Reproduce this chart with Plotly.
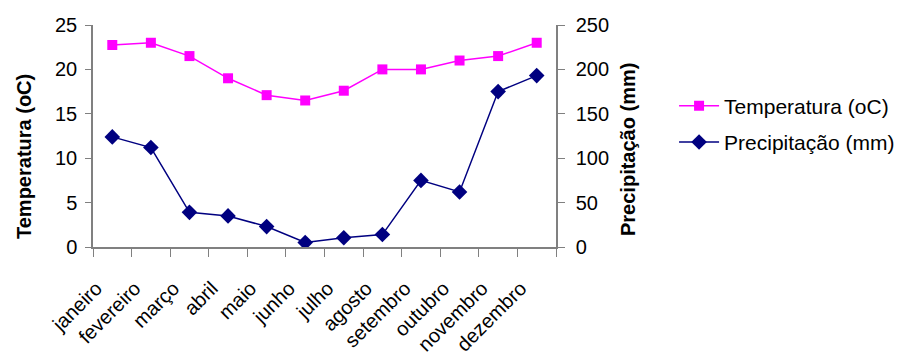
import plotly.graph_objects as go

meses = ["janeiro", "fevereiro", "março", "abril", "maio", "junho", "julho",
         "agosto", "setembro", "outubro", "novembro", "dezembro"]
temperatura = [22.75, 23.0, 21.5, 19.0, 17.1, 16.5, 17.6, 20.0, 20.0, 21.0, 21.5, 23.0]
precipitacao = [124, 112, 39, 35, 23, 5, 10.5, 14, 75, 62, 175, 193]

FONT = "Liberation Sans, Arial, sans-serif"
AX = "#808080"
L, R, T, B = 93, 349, 25, 111
W, H = 905, 358
PW, PH = W - L - R, H - T - B

fig = go.Figure()
fig.add_trace(go.Scatter(
    x=meses, y=temperatura, name="Temperatura (oC)", mode="lines+markers",
    line=dict(color="#FF00FF", width=1.5), legendgroup="t",
    marker=dict(symbol="square", size=10, color="#FF00FF"),
    yaxis="y"))
fig.add_trace(go.Scatter(
    x=meses, y=precipitacao, name="Precipitação (mm)", mode="lines+markers",
    line=dict(color="#000080", width=1.5), legendgroup="p",
    marker=dict(symbol="diamond", size=12, color="#000080"),
    yaxis="y2"))

fig.update_layout(
    width=W, height=H,
    margin=dict(l=L, r=R, t=T, b=B, autoexpand=False),
    paper_bgcolor="white", plot_bgcolor="white",
    font=dict(family=FONT, size=20, color="black"),
    showlegend=True,
    legend=dict(x=1.255, y=(T + PH - 124) / PH, xanchor="left", yanchor="middle",
                font=dict(size=21), tracegroupgap=6, itemwidth=40,
                bgcolor="rgba(0,0,0,0)"),
    xaxis=dict(type="category", tickson="boundaries", ticks="outside",
               ticklen=8, tickcolor=AX, showline=True, linecolor=AX,
               linewidth=1.5, tickangle=-45, showgrid=False, automargin=False,
               tickfont=dict(size=20), range=[-0.5, 11.5],
               ticklabelstandoff=20, ticklabelshift=-16),
    yaxis=dict(range=[0, 25], dtick=5, ticks="outside", ticklen=6,
               tickcolor=AX, showline=True, linecolor=AX, linewidth=1.5,
               showgrid=False, zeroline=False, ticklabelstandoff=4,
               automargin=False),
    yaxis2=dict(range=[0, 250], dtick=50, ticks="outside", ticklen=7,
                tickcolor=AX, showline=True, linecolor=AX, linewidth=1.5,
                showgrid=False, zeroline=False, overlaying="y", side="right",
                ticklabelstandoff=7, automargin=False),
    annotations=[
        dict(text="<b>Temperatura (oC)</b>", textangle=-90, showarrow=False,
             xref="paper", yref="paper", x=(24 - L) / PW, y=(T + PH - 157) / PH,
             xanchor="center", yanchor="middle", font=dict(size=20)),
        dict(text="<b>Precipitação (mm)</b>", textangle=-90, showarrow=False,
             xref="paper", yref="paper", x=(628 - L) / PW, y=(T + PH - 150) / PH,
             xanchor="center", yanchor="middle", font=dict(size=20)),
    ],
)

fig.write_html("out.html")
